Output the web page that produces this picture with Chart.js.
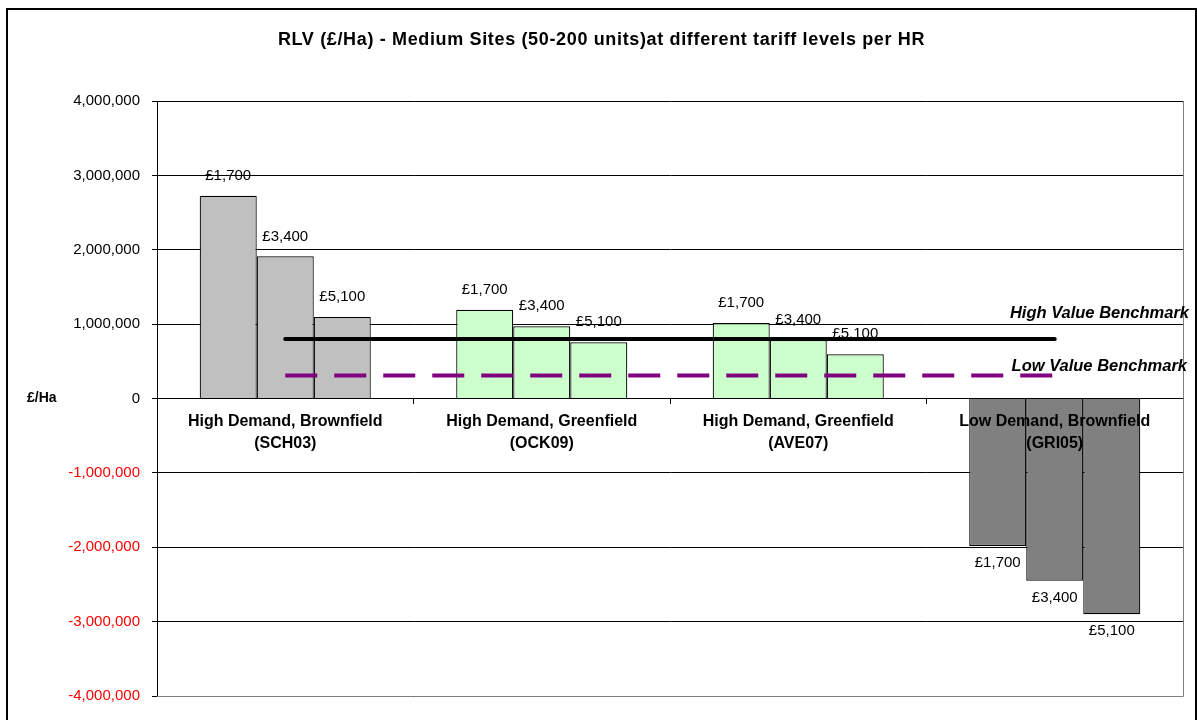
<!DOCTYPE html>
<html>
<head>
<meta charset="utf-8">
<title>RLV (£/Ha) - Medium Sites</title>
<script src="https://cdn.jsdelivr.net/npm/chart.js@4.4.1/dist/chart.umd.min.js"></script>
<style>
  html, body { margin: 0; padding: 0; background: #fff; }
  #wrap { width: 1197px; height: 720px; position: relative; }
</style>
</head>
<body>
<div id="wrap"><canvas id="rlv"></canvas></div>
<script>
// Site typologies (two-line axis labels)
const categories = [
  ['High Demand, Brownfield', '(SCH03)'],
  ['High Demand, Greenfield', '(OCK09)'],
  ['High Demand, Greenfield', '(AVE07)'],
  ['Low Demand, Brownfield', '(GRI05)']
];

// Tariff levels per HR (one bar series each)
const tariffLevels = ['£1,700', '£3,400', '£5,100'];

// Residual land value, £/Ha
const rlvTariff1700 = [2726000, 1194000, 1015000, -1983000];
const rlvTariff3400 = [1911000,  970000,  785000, -2449000];
const rlvTariff5100 = [1095000,  755000,  594000, -2900000];

// Benchmark land values, £/Ha
const highValueBenchmark = [800000, 800000, 800000, 800000];
const lowValueBenchmark  = [310000, 310000, 310000, 310000];

// Value axis range and step
const yMin = -4000000;
const yMax = 4000000;
const yStep = 1000000;

const FONT = '"Liberation Sans", Arial, sans-serif';
const categoryFills = ['#C0C0C0', '#CCFFCC', '#CCFFCC', '#808080'];

const barSeries = [rlvTariff1700, rlvTariff3400, rlvTariff5100].map((values, i) => ({
  type: 'bar',
  label: tariffLevels[i],
  data: values,
  backgroundColor: categoryFills,
  borderColor: '#000000',
  borderWidth: 1.2,
  categoryPercentage: 0.667,
  barPercentage: 1.0,
  order: 2
}));

// Tariff level labels above / below each bar
const barLabels = {
  id: 'barLabels',
  afterDatasetDraw(chart, args) {
    const ds = chart.data.datasets[args.index];
    if (ds.type !== 'bar') return;
    const ctx = chart.ctx;
    ctx.save();
    ctx.font = '15px ' + FONT;
    ctx.fillStyle = '#000';
    ctx.textAlign = 'center';
    ctx.textBaseline = 'middle';
    args.meta.data.forEach((el, i) => {
      const v = ds.data[i];
      const y = v >= 0 ? el.y - 20 : el.y + 17;
      ctx.fillText(ds.label, el.x, y);
    });
    ctx.restore();
  }
};

// Slightly tracked-out title text, nudged right
const titleSpacing = {
  id: 'titleSpacing',
  afterLayout(chart) {
    const block = chart.titleBlock;
    if (!block || block._spaced) return;
    const draw = block.draw;
    block.draw = function () {
      const ctx = this.ctx;
      ctx.save();
      ctx.letterSpacing = '0.65px';
      ctx.translate(10, 0);
      draw.apply(this, arguments);
      ctx.restore();
    };
    block._spaced = true;
  }
};

// Frame, plot border, unit label and benchmark captions
const decorations = {
  id: 'decorations',
  afterDraw(chart) {
    const { ctx, chartArea } = chart;
    const y = chart.scales.y;
    ctx.save();
    // plot area right / bottom edge
    ctx.strokeStyle = '#808080';
    ctx.lineWidth = 1;
    ctx.beginPath();
    ctx.moveTo(chartArea.right + 0.5, chartArea.top);
    ctx.lineTo(chartArea.right + 0.5, chartArea.bottom + 0.5);
    ctx.lineTo(chartArea.left, chartArea.bottom + 0.5);
    ctx.stroke();
    // outer frame
    ctx.strokeStyle = '#000';
    ctx.lineWidth = 2;
    ctx.strokeRect(7, 9, 1189, 800);
    // unit label at the zero line
    ctx.fillStyle = '#000';
    ctx.font = 'bold 14px ' + FONT;
    ctx.textAlign = 'left';
    ctx.textBaseline = 'middle';
    ctx.fillText('£/Ha', 27, y.getPixelForValue(0));
    // benchmark captions
    ctx.font = 'italic bold 16.5px ' + FONT;
    ctx.textAlign = 'right';
    ctx.fillText('High Value Benchmark', chartArea.right + 6, y.getPixelForValue(highValueBenchmark[3]) - 26);
    ctx.fillText('Low Value Benchmark', chartArea.right + 4, y.getPixelForValue(lowValueBenchmark[3]) - 9);
    ctx.restore();
  }
};

new Chart(document.getElementById('rlv'), {
  data: {
    labels: categories,
    datasets: [
      {
        type: 'line',
        label: 'High Value Benchmark',
        data: highValueBenchmark,
        borderColor: '#000000',
        borderWidth: 4,
        borderCapStyle: 'round',
        pointRadius: 0,
        fill: false,
        order: 0
      },
      {
        type: 'line',
        label: 'Low Value Benchmark',
        data: lowValueBenchmark,
        borderColor: '#800080',
        borderWidth: 4,
        borderDash: [32, 17],
        borderCapStyle: 'butt',
        pointRadius: 0,
        fill: false,
        order: 1
      },
      ...barSeries
    ]
  },
  options: {
    responsive: true,
    maintainAspectRatio: false,
    animation: false,
    layout: { padding: { left: 0, right: 14, top: 0, bottom: 24 } },
    plugins: {
      legend: { display: false },
      tooltip: { enabled: false },
      title: {
        display: true,
        text: 'RLV (£/Ha) - Medium Sites (50-200 units)at different tariff levels per HR',
        color: '#000',
        font: { family: FONT, size: 18, weight: 'bold', lineHeight: 1.2 },
        padding: { top: 29, bottom: 50.4 }
      }
    },
    scales: {
      x: {
        type: 'category',
        position: { y: 0 },
        offset: true,
        border: { display: true, color: '#000', width: 1 },
        grid: { offset: true, drawOnChartArea: false, drawTicks: true, tickLength: 5, color: '#000' },
        ticks: {
          z: 1,
          color: '#000',
          font: { family: FONT, size: 16, weight: 'bold', lineHeight: 1.375 },
          padding: 7,
          maxRotation: 0,
          autoSkip: false
        }
      },
      y: {
        min: yMin,
        max: yMax,
        border: { display: true, color: '#000', width: 1 },
        grid: { color: '#000', lineWidth: 1, tickLength: 5, drawTicks: true },
        ticks: {
          stepSize: yStep,
          padding: 12,
          font: { family: FONT, size: 15 },
          color: (ctx) => (ctx.tick && ctx.tick.value < 0 ? '#FF0000' : '#000000'),
          callback: (v) => Number(v).toLocaleString('en-US')
        },
        afterFit: (scale) => { scale.width = 157; }
      }
    }
  },
  plugins: [barLabels, titleSpacing, decorations]
});
</script>
</body>
</html>
